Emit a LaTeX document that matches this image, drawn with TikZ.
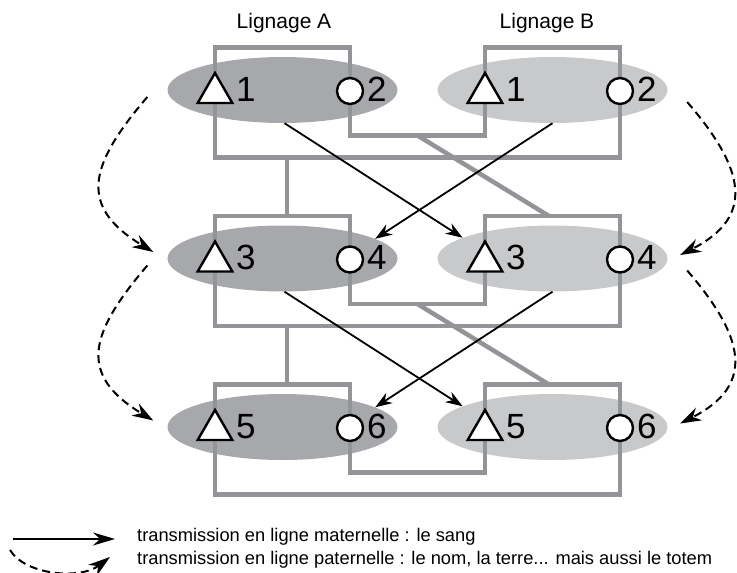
\documentclass[tikz,border=0pt]{standalone}
\usepackage{fontspec}
\setmainfont{Liberation Sans}
\usepackage{tikz}
\usetikzlibrary{positioning}
\usetikzlibrary{shapes.geometric}
\usetikzlibrary{arrows.meta}
\definecolor{grisA}{HTML}{A7A8AB}
\definecolor{grisB}{HTML}{C8C9CB}
\definecolor{grisL}{HTML}{939498}

\begin{document}
\begin{tikzpicture}[x=1pt, y=-1pt,
lignA/.style={ellipse, fill=grisA, minimum width=230pt, minimum height=66pt, inner sep=0pt},
lignB/.style={lignA, fill=grisB},
homme/.style={regular polygon, regular polygon sides=3, draw, fill=white, line width=2.4pt, minimum size=40pt, inner sep=0pt},
femme/.style={circle, draw, fill=white, line width=2.4pt, minimum size=26pt, inner sep=0pt},
num/.style={anchor=base west, inner sep=0pt, font=\fontsize{35}{35}\selectfont},
alliance/.style={draw=grisL, line width=4.5pt},
sang/.style={-{Stealth[length=17pt, width=12pt]}, line width=1.8pt},
totem/.style={-{Stealth[length=21pt, width=14pt]}, line width=2pt, dash pattern=on 8pt off 5pt},
titre/.style={font=\fontsize{21}{21}\selectfont},
legende/.style={anchor=west, inner sep=0pt, font=\fontsize{18.3}{18.3}\selectfont}]
\useasboundingbox (0,0) rectangle (737,573);

\node[titre] (titreA) at (284,23) {Lignage A};
\node[titre] (titreB) at (547,23) {Lignage B};

% trois generations
\foreach \r/\y/\p/\q in {1/90/1/2, 2/258.5/3/4, 3/427/5/6} {
  \node[lignA] (A\r) at (282.5,\y) {};
  \node[lignB] (B\r) at (552.5,\y) {};
  \draw[alliance] (350,{\y+45.5}) -- (350,{\y-42.5}) -- (215,{\y-42.5}) -- (215,{\y+67.5})
    -- (620,{\y+67.5}) -- (620,{\y-42.5}) -- (485,{\y-42.5}) -- (485,{\y+45.5}) -- cycle;
  \node[homme] (hA\r) at (215,{\y+3}) {};
  \node[femme] (fA\r) at (350,{\y+1}) {};
  \node[homme] (hB\r) at (485,{\y+3}) {};
  \node[femme] (fB\r) at (620,{\y+1}) {};
  \node[num] (nhA\r) at (236,{\y+11}) {\p};
  \node[num] (nfA\r) at (367,{\y+11}) {\q};
  \node[num] (nhB\r) at (506,{\y+11}) {\p};
  \node[num] (nfB\r) at (637,{\y+11}) {\q};
}

% filiation
\foreach \r/\s in {1/2, 2/3} {
  \draw[alliance] ([xshift=4.5pt,yshift=-67.5pt]A\r.center) -- ([xshift=4.5pt,yshift=42.5pt]A\s.center);
  \draw[alliance] ([xshift=135pt,yshift=-45.5pt]A\r.center) -- ([xshift=-3.5pt,yshift=42.5pt]B\s.center);
  \draw[sang] ([xshift=2pt]A\r.south) -- (B\s.167);
  \draw[sang] (B\r.south) -- (A\s.12);
  \draw[totem] ([xshift=-20pt,yshift=-7pt]A\r.west) .. controls +(-58,68) and +(-76,-46) .. ([xshift=-14pt,yshift=6.5pt]A\s.west);
  \draw[totem] ([xshift=19.5pt,yshift=-12pt]B\r.east) .. controls +(56,65) and +(77,-39) .. ([xshift=12.5pt,yshift=3.5pt]B\s.east);
}

% legende
\node[legende] (leg1) at (137,537) {transmission en ligne maternelle : le sang};
\node[legende] (leg2) at (137,560) {transmission en ligne paternelle : le nom, la terre... mais aussi le totem};
\draw[sang, -{Stealth[length=22pt, width=13pt]}] ([xshift=-124pt,yshift=-2pt]leg1.west) -- ([xshift=-22pt,yshift=-2pt]leg1.west);
\draw[totem, -{Stealth[length=22pt, width=14pt]}] ([xshift=-127pt,yshift=10pt]leg2.west) .. controls +(15,25) and +(-30,23) .. ([xshift=-27pt,yshift=3pt]leg2.west);
\end{tikzpicture}
\end{document}
